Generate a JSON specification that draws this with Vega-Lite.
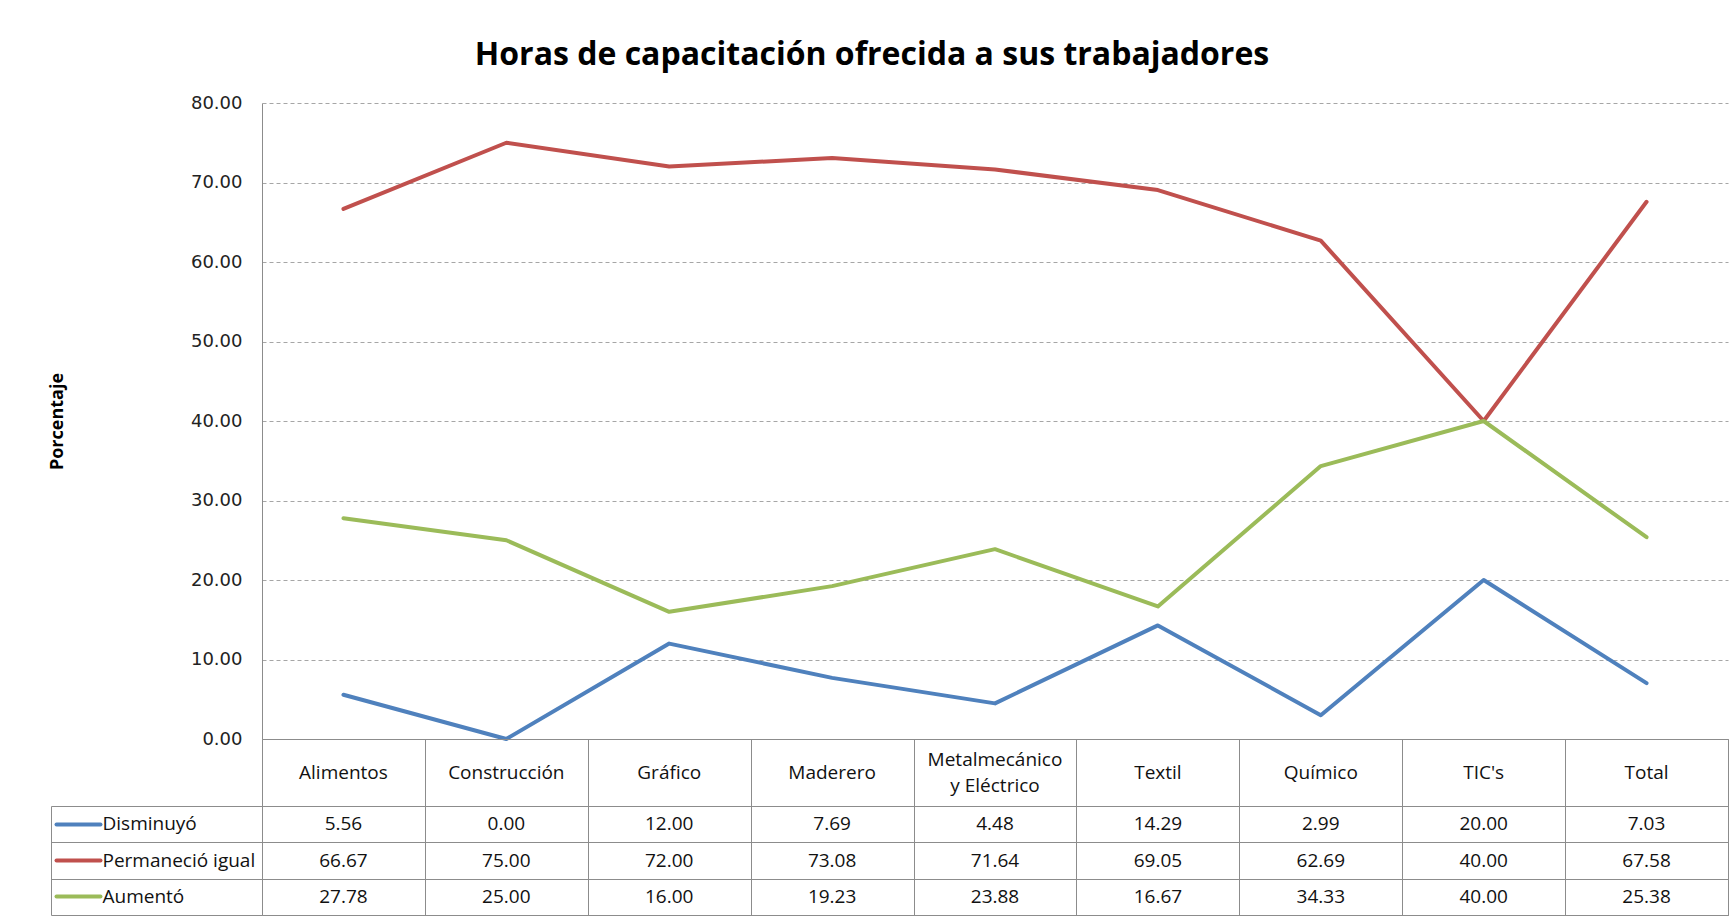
{
  "$schema": "https://vega.github.io/schema/vega-lite/v6.json",
  "padding": {"left": 48, "top": 39, "right": 4, "bottom": 0},
  "background": "white",
  "title": {"text": "Horas de capacitación ofrecida a sus trabajadores", "font": "Open Sans", "fontSize": 32, "fontWeight": "bold", "color": "#000000", "anchor": "middle", "frame": "group", "dx": -123, "offset": 22},
  "datasets": {
    "tabla": [
      {"categoria": "Alimentos", "serie": "Disminuyó", "valor": 5.56},
      {"categoria": "Alimentos", "serie": "Permaneció igual", "valor": 66.67},
      {"categoria": "Alimentos", "serie": "Aumentó", "valor": 27.78},
      {"categoria": "Construcción", "serie": "Disminuyó", "valor": 0.00},
      {"categoria": "Construcción", "serie": "Permaneció igual", "valor": 75.00},
      {"categoria": "Construcción", "serie": "Aumentó", "valor": 25.00},
      {"categoria": "Gráfico", "serie": "Disminuyó", "valor": 12.00},
      {"categoria": "Gráfico", "serie": "Permaneció igual", "valor": 72.00},
      {"categoria": "Gráfico", "serie": "Aumentó", "valor": 16.00},
      {"categoria": "Maderero", "serie": "Disminuyó", "valor": 7.69},
      {"categoria": "Maderero", "serie": "Permaneció igual", "valor": 73.08},
      {"categoria": "Maderero", "serie": "Aumentó", "valor": 19.23},
      {"categoria": "Metalmecánico\ny Eléctrico", "serie": "Disminuyó", "valor": 4.48},
      {"categoria": "Metalmecánico\ny Eléctrico", "serie": "Permaneció igual", "valor": 71.64},
      {"categoria": "Metalmecánico\ny Eléctrico", "serie": "Aumentó", "valor": 23.88},
      {"categoria": "Textil", "serie": "Disminuyó", "valor": 14.29},
      {"categoria": "Textil", "serie": "Permaneció igual", "valor": 69.05},
      {"categoria": "Textil", "serie": "Aumentó", "valor": 16.67},
      {"categoria": "Químico", "serie": "Disminuyó", "valor": 2.99},
      {"categoria": "Químico", "serie": "Permaneció igual", "valor": 62.69},
      {"categoria": "Químico", "serie": "Aumentó", "valor": 34.33},
      {"categoria": "TIC's", "serie": "Disminuyó", "valor": 20.00},
      {"categoria": "TIC's", "serie": "Permaneció igual", "valor": 40.00},
      {"categoria": "TIC's", "serie": "Aumentó", "valor": 40.00},
      {"categoria": "Total", "serie": "Disminuyó", "valor": 7.03},
      {"categoria": "Total", "serie": "Permaneció igual", "valor": 67.58},
      {"categoria": "Total", "serie": "Aumentó", "valor": 25.38}
    ]
  },
  "spacing": 0,
  "bounds": "flush",
  "config": {"view": {"stroke": "#8c8c8c"}},
  "vconcat": [
    {
      "width": 1466,
      "height": 636,
      "data": {"name": "tabla"},
      "view": {"stroke": null},
      "mark": {"type": "line", "strokeWidth": 4, "strokeCap": "round", "strokeJoin": "round"},
      "encoding": {
        "x": {"field": "categoria", "type": "nominal", "sort": ["Alimentos", "Construcción", "Gráfico", "Maderero", "Metalmecánico\ny Eléctrico", "Textil", "Químico", "TIC's", "Total"], "scale": {"type": "point", "padding": 0.5}, "axis": null},
        "y": {"field": "valor", "type": "quantitative", "scale": {"domain": [0, 80], "nice": false},
          "axis": {"title": "Porcentaje", "values": [0, 10, 20, 30, 40, 50, 60, 70, 80], "format": ".2f", "labelFont": "DejaVu Sans", "labelFontSize": 18, "labelColor": "#222222", "labelPadding": 20, "ticks": false, "domain": true, "domainColor": "#8c8c8c", "grid": true, "gridColor": "#a6a6a6", "gridDash": [4, 3], "titleFont": "Open Sans", "titleFontSize": 18, "titleFontWeight": "bold", "titleColor": "#000000", "titlePadding": 124}},
        "color": {"field": "serie", "type": "nominal", "scale": {"domain": ["Disminuyó", "Permaneció igual", "Aumentó"], "range": ["#4F81BD", "#C0504D", "#9BBB59"]}, "legend": null}
      }
    },
    {
      "width": 1466,
      "height": 67,
      "data": {"name": "tabla"},
      "transform": [{"filter": "datum.serie === 'Disminuyó'"}],
      "encoding": {
        "x": {"field": "categoria", "type": "nominal", "sort": ["Alimentos", "Construcción", "Gráfico", "Maderero", "Metalmecánico\ny Eléctrico", "Textil", "Químico", "TIC's", "Total"], "scale": {"type": "band", "paddingInner": 0, "paddingOuter": 0},
          "axis": {"orient": "bottom", "title": null, "labels": false, "ticks": false, "domain": false, "grid": true, "gridColor": "#8c8c8c", "tickBand": "extent"}},
        "text": {"field": "categoria", "type": "nominal"}
      },
      "layer": [
        {
          "transform": [{"filter": "indexof(datum.categoria, '\\n') < 0"}],
          "mark": {"type": "text", "font": "Open Sans", "fontSize": 19, "color": "#111111"}
        },
        {
          "transform": [{"filter": "indexof(datum.categoria, '\\n') >= 0"}],
          "mark": {"type": "text", "font": "Open Sans", "fontSize": 19, "lineBreak": "\n", "lineHeight": 26, "dy": -13, "color": "#111111"}
        }
      ]
    },
    {
      "width": 1466,
      "height": 109,
      "data": {"name": "tabla"},
      "layer": [
        {
          "mark": {"type": "text", "font": "Open Sans", "fontSize": 19, "color": "#111111"},
          "encoding": {
            "x": {"field": "categoria", "type": "nominal", "sort": ["Alimentos", "Construcción", "Gráfico", "Maderero", "Metalmecánico\ny Eléctrico", "Textil", "Químico", "TIC's", "Total"], "scale": {"type": "band", "paddingInner": 0, "paddingOuter": 0},
              "axis": {"orient": "bottom", "title": null, "labels": false, "ticks": false, "domain": false, "grid": true, "gridColor": "#8c8c8c", "tickBand": "extent"}},
            "y": {"field": "serie", "type": "nominal", "sort": ["Disminuyó", "Permaneció igual", "Aumentó"], "scale": {"type": "band", "paddingInner": 0, "paddingOuter": 0},
              "axis": {"orient": "left", "title": null, "labels": false, "domain": false, "ticks": true, "tickSize": 211, "tickColor": "#8c8c8c", "tickBand": "extent", "grid": true, "gridColor": "#8c8c8c"}},
            "text": {"field": "valor", "type": "quantitative", "format": ".2f"}
          }
        },
        {
          "mark": {"type": "text", "text": ""},
          "encoding": {
            "y": {"field": "serie", "type": "nominal", "sort": ["Disminuyó", "Permaneció igual", "Aumentó"],
              "axis": {"orient": "left", "offset": 211, "title": null, "labels": false, "ticks": false, "domain": true, "domainColor": "#8c8c8c", "grid": false}}
          }
        },
        {
          "mark": {"type": "text", "text": ""},
          "encoding": {
            "y": {"field": "serie", "type": "nominal", "sort": ["Disminuyó", "Permaneció igual", "Aumentó"],
              "axis": {"orient": "left", "offset": 162, "title": null, "domain": false, "grid": false, "ticks": true, "tickSize": 44, "tickWidth": 4, "tickCap": "round",
                "tickColor": {"condition": [{"test": "datum.value === 'Disminuyó'", "value": "#4F81BD"}, {"test": "datum.value === 'Aumentó'", "value": "#9BBB59"}], "value": "#C0504D"},
                "labels": true, "labelAlign": "left", "labelPadding": -46, "labelFont": "Open Sans", "labelFontSize": 19, "labelColor": "#111111"}}
          }
        }
      ],
      "resolve": {"axis": {"y": "independent"}}
    }
  ]
}
